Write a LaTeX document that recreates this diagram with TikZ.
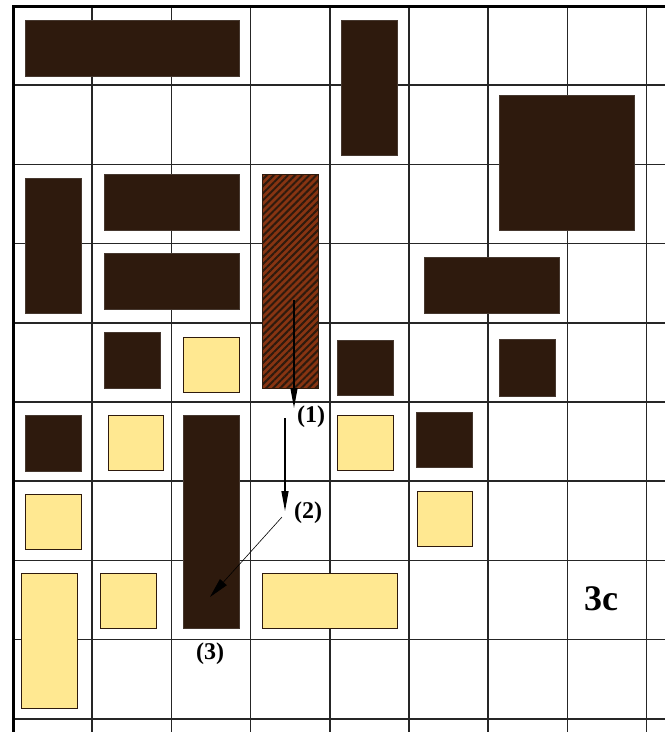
\documentclass[tikz,border=0pt]{standalone}
\usepackage{fontspec}
\setmainfont{Liberation Serif}
\usetikzlibrary{arrows.meta,patterns.meta}
\definecolor{darkb}{RGB}{46,26,13}
\definecolor{sand}{RGB}{255,232,145}
\definecolor{rust}{RGB}{135,52,18}
\tikzset{
  gridline/.style={line width=1.7pt,black!85},
  border/.style={line width=3pt,black},
  darkbox/.style={fill=darkb,draw=darkb!70!gray,line width=0.6pt},
  sandbox/.style={fill=sand,draw=darkb,line width=1pt},
  hatchbox/.style={fill=rust,draw=darkb,line width=0.6pt,
     postaction={pattern={Lines[angle=45,distance=5pt,line width=2pt]},pattern color=darkb}},
  lbl/.style={font=\bfseries\fontsize{24}{26}\selectfont,inner sep=0pt},
  mv/.style={line width=1.3pt,-{Triangle[length=20pt,width=7pt]}},
  mvthin/.style={line width=0.6pt,-{Triangle[length=20pt,width=9pt]}}
}
\begin{document}
\begin{tikzpicture}[x=1pt,y=-1pt]
\useasboundingbox (0,0) rectangle (665,732);
\fill[white] (0,0) rectangle (665,732);
% grid
\foreach \k in {1,...,8} \draw[gridline] ({13+79.2*\k},6) -- ({13+79.2*\k},732);
\foreach \k in {1,...,9} \draw[gridline] (13,{6+79.2*\k}) -- (665,{6+79.2*\k});
\draw[border] (13,732) -- (13,6) -- (665,6);
% dark blocks
\draw[darkbox] (25,20) rectangle (239,76);
\draw[darkbox] (341,20) rectangle (397,155);
\draw[darkbox] (499,95) rectangle (634,230);
\draw[darkbox] (25,178) rectangle (81,313);
\draw[darkbox] (104,174) rectangle (239,230);
\draw[darkbox] (104,253) rectangle (239,309);
\draw[darkbox] (424,257) rectangle (559,313);
\draw[darkbox] (104,332) rectangle (160,388);
\draw[darkbox] (337,340) rectangle (393,395);
\draw[darkbox] (499,339) rectangle (555,396);
\draw[darkbox] (25,415) rectangle (81,471);
\draw[darkbox] (416,412) rectangle (472,467);
\draw[darkbox] (183,415) rectangle (239,628);
% hatched block
\draw[hatchbox] (262,174) rectangle (318,388);
% sand blocks
\draw[sandbox] (183,337) rectangle (239,392);
\draw[sandbox] (108,415) rectangle (163,470);
\draw[sandbox] (337,415) rectangle (393,470);
\draw[sandbox] (25,494) rectangle (81,549);
\draw[sandbox] (417,491) rectangle (472,546);
\draw[sandbox] (21,573) rectangle (77,708);
\draw[sandbox] (100,573) rectangle (156,628);
\draw[sandbox] (262,573) rectangle (397,628);
% moves
\coordinate (a0) at (294,300);
\coordinate (a1) at (294,408);
\coordinate (b0) at (285,418);
\coordinate (b1) at (285,511);
\coordinate (c0) at (282,517);
\coordinate (c1) at (210,597);
\draw[mv] (a0) -- (a1);
\draw[mv] (b0) -- (b1);
\draw[mvthin] (c0) -- (c1);
\node[lbl] (l1) at (311,417) {(1)};
\node[lbl] (l2) at (308,513) {(2)};
\node[lbl] (l3) at (210,654) {(3)};
\node[font=\bfseries\fontsize{36}{38}\selectfont,inner sep=0pt] (tag) at (601,599) {3c};
\end{tikzpicture}
\end{document}
